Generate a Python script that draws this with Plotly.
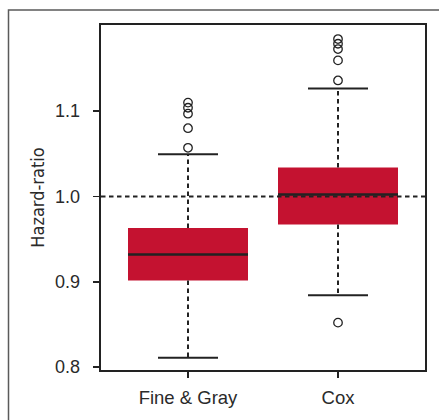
import plotly.graph_objects as go

categories = ["Fine & Gray", "Cox"]
q1 = [0.9015, 0.967]
median = [0.932, 1.0023]
q3 = [0.963, 1.034]
lower_whisker = [0.811, 0.884]
upper_whisker = [1.0495, 1.1265]
outliers = [
    [1.057, 1.080, 1.097, 1.104, 1.110],
    [0.852, 1.136, 1.1595, 1.1728, 1.179, 1.1845],
]
ref_value = 1.0
y_ticks = [0.8, 0.9, 1.0, 1.1]

RED = "#C41230"
INK = "#222222"
positions = list(range(1, len(categories) + 1))
BOX_HALF = 0.4
CAP_HALF = 0.2

fig = go.Figure()

# boxes (IQR)
fig.add_trace(go.Bar(
    x=positions, y=[b - a for a, b in zip(q1, q3)], base=q1, width=2 * BOX_HALF,
    marker=dict(color=RED, line=dict(width=0)), showlegend=False, hoverinfo="skip"))

# whiskers (dashed)
wx, wy = [], []
for p, a, b, lo, hi in zip(positions, q1, q3, lower_whisker, upper_whisker):
    wx += [p, p, None, p, p, None]
    wy += [b, hi, None, a, lo, None]
fig.add_trace(go.Scatter(x=wx, y=wy, mode="lines",
                         line=dict(color=INK, width=2, dash="4.5px,3.5px"),
                         showlegend=False, hoverinfo="skip"))

# caps
cx, cy = [], []
for p, lo, hi in zip(positions, lower_whisker, upper_whisker):
    cx += [p - CAP_HALF, p + CAP_HALF, None, p - CAP_HALF, p + CAP_HALF, None]
    cy += [hi, hi, None, lo, lo, None]
fig.add_trace(go.Scatter(x=cx, y=cy, mode="lines", line=dict(color=INK, width=2),
                         showlegend=False, hoverinfo="skip"))

# medians
mx, my = [], []
for p, m in zip(positions, median):
    mx += [p - BOX_HALF, p + BOX_HALF, None]
    my += [m, m, None]
fig.add_trace(go.Scatter(x=mx, y=my, mode="lines", line=dict(color=INK, width=2.6),
                         showlegend=False, hoverinfo="skip"))

# outliers
ox, oy = [], []
for p, vals in zip(positions, outliers):
    ox += [p] * len(vals)
    oy += vals
fig.add_trace(go.Scatter(x=ox, y=oy, mode="markers",
                         marker=dict(symbol="circle-open", size=8.5, color=INK,
                                     line=dict(width=1.3, color=INK)),
                         showlegend=False, hoverinfo="skip"))

fig.add_hline(y=ref_value, line=dict(color=INK, width=2, dash="4.5px,3.5px"), layer="above")

W, H = 439, 420
ml, mr, mt, mb = 101, 14, 25, 48
pw, ph = W - ml - mr, H - mt - mb
# outer grey frame (figure panel border)
fig.add_shape(type="rect", xref="paper", yref="paper",
              x0=(8.5 - ml) / pw, x1=(W + 20 - ml) / pw,
              y0=(H - mb - (H + 20)) / ph, y1=(H - mb - 9.8) / ph,
              line=dict(color="#5a5a5a", width=1.5), fillcolor="rgba(0,0,0,0)", layer="below")

fig.update_layout(
    width=W, height=H,
    margin=dict(l=ml, r=mr, t=mt, b=mb),
    paper_bgcolor="white", plot_bgcolor="white",
    font=dict(family="Liberation Sans, Arial, sans-serif", color="#2a2a2a", size=18),
    showlegend=False,
)
fig.update_xaxes(
    range=[0.42, 2.58], tickvals=positions, ticktext=categories,
    showgrid=False, zeroline=False,
    showline=True, linewidth=2.3, linecolor=INK, mirror=True,
    ticks="outside", ticklen=6, tickwidth=1.6, tickcolor=INK,
    tickfont=dict(size=18.5), ticklabelstandoff=3,
)
fig.update_yaxes(
    range=[0.7965, 1.201], tickvals=y_ticks, tickformat=".1f",
    showgrid=False, zeroline=False,
    showline=True, linewidth=2.3, linecolor=INK, mirror=True,
    ticks="outside", ticklen=6, tickwidth=1.6, tickcolor=INK,
    tickfont=dict(size=18), ticklabelstandoff=9,
    title=dict(text="Hazard-ratio", standoff=6,
               font=dict(family="DejaVu Sans Condensed, Liberation Sans Narrow, Arial Narrow, sans-serif", size=18)),
)

fig.write_html("out.html", config={"displayModeBar": False, "staticPlot": True})
with open("out.html", encoding="utf-8") as f:
    html = f.read()
html = html.replace("<head>", "<head><style>html,body{margin:0;padding:0;overflow:hidden;}</style>", 1)
with open("out.html", "w", encoding="utf-8") as f:
    f.write(html)
